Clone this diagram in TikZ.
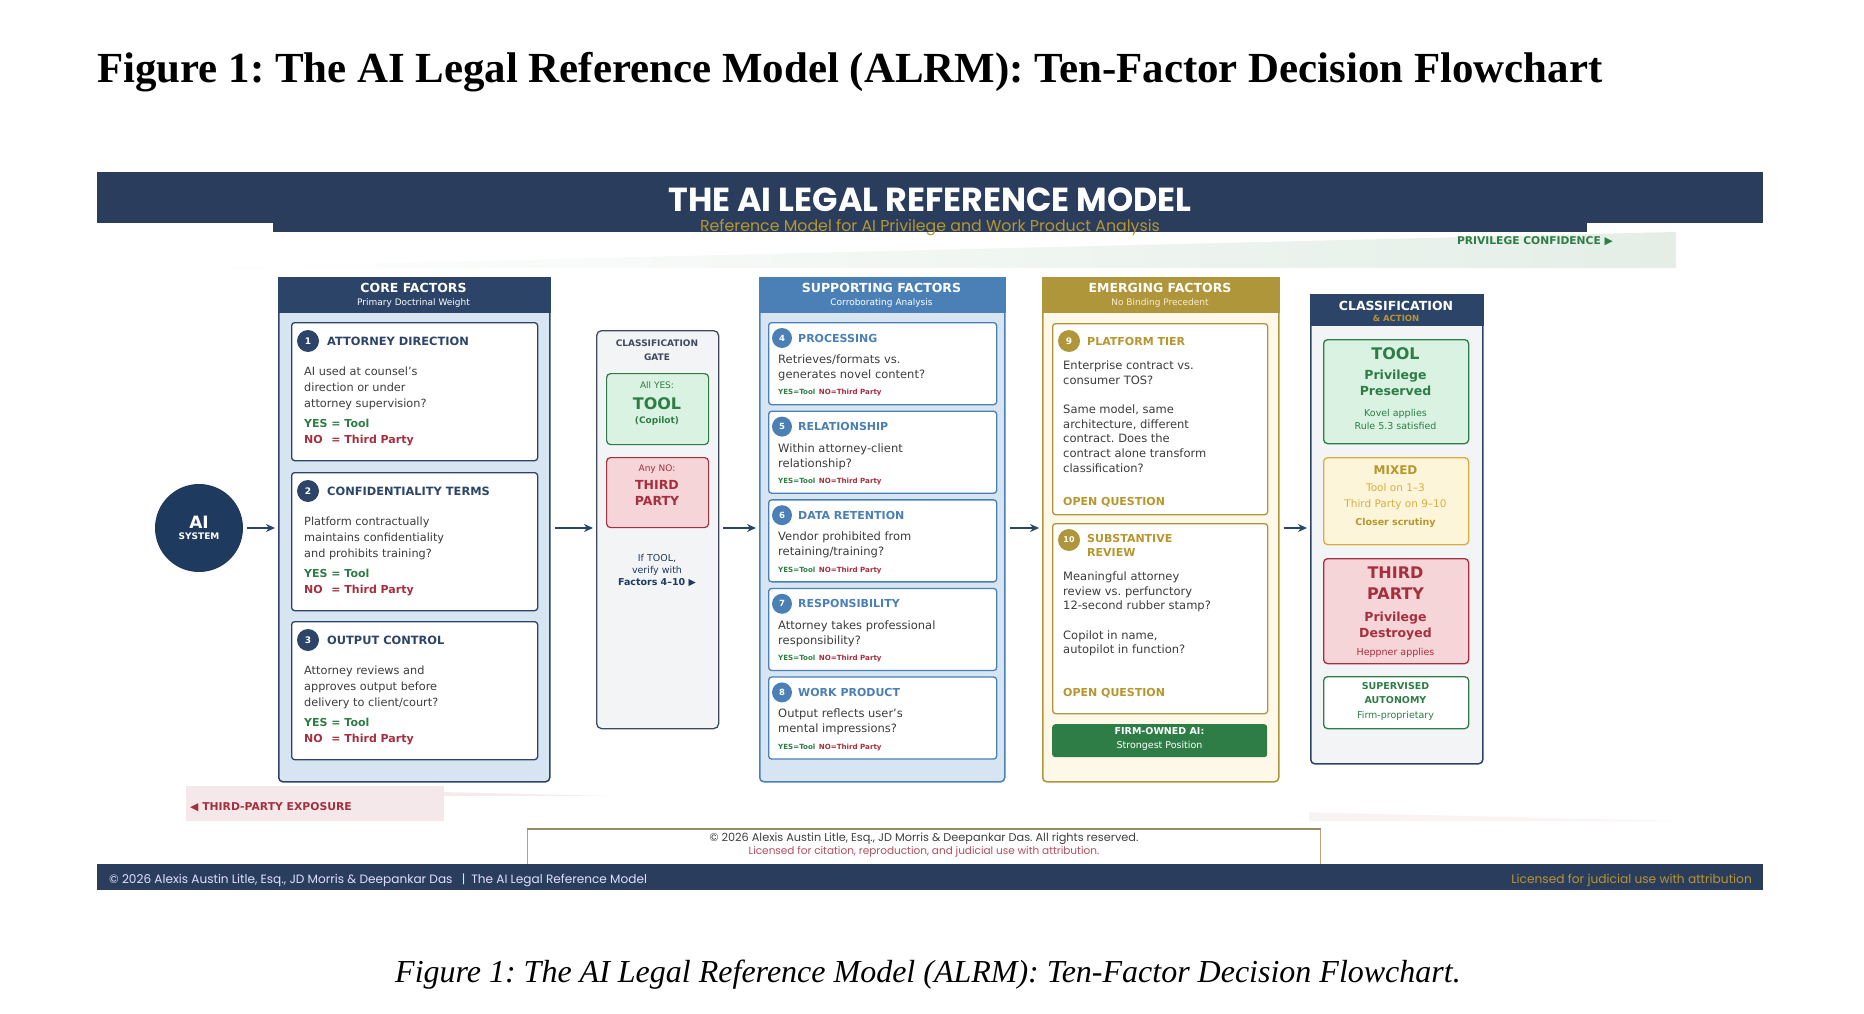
\documentclass[tikz,border=0pt]{standalone}
\usepackage{fontspec}
\setmainfont{DejaVu Sans}
\newfontfamily\timesfont{Liberation Serif}
\newfontfamily\popfont{Poppins}
\usepackage{tikz}
\usetikzlibrary{positioning,calc,arrows.meta,shapes}
\frenchspacing

\definecolor{navy}{HTML}{2B4468}
\definecolor{dotnavy}{HTML}{1E3A5F}
\definecolor{barnavy}{HTML}{2A3D5C}
\definecolor{steel}{HTML}{4A80B6}
\definecolor{gold}{HTML}{B0963A}
\definecolor{goldtxt}{HTML}{B8962E}
\definecolor{cream}{HTML}{FDF8E7}
\definecolor{paleblue}{HTML}{D6E5F1}
\definecolor{palegray}{HTML}{F3F4F6}
\definecolor{slate}{HTML}{3E4A5C}
\definecolor{okgreen}{HTML}{2E7D46}
\definecolor{okfill}{HTML}{D9F2E2}
\definecolor{badred}{HTML}{A52F3F}
\definecolor{badfill}{HTML}{F5D5D7}
\definecolor{mixfill}{HTML}{FDF5DA}
\definecolor{mixgold}{HTML}{D8AE40}
\definecolor{bodygray}{HTML}{3C3C3C}
\definecolor{tan}{HTML}{B5A27A}

\newcommand{\fsz}[2]{\fontsize{#1}{#2}\selectfont}

\begin{document}
\begin{tikzpicture}[x=1pt,y=-1pt,
    box/.style={rectangle, anchor=north west, inner sep=0pt},
    card/.style={box, draw, fill=white, rounded corners=3pt, line width=1.3pt},
    numdot/.style={circle, inner sep=0pt, text=white, font=\bfseries\fsz{9}{9}},
    lbl/.style={inner sep=0pt},
    txt/.style={anchor=north west, inner sep=0pt, align=left, text=bodygray},
    flow/.style={-{Stealth[length=9pt,width=8pt]}, line width=1.6pt, draw=navy, shorten <=4pt, shorten >=3pt}]

    \fill[white] (0,0) rectangle (1864,1014);
    \useasboundingbox (0,0) rectangle (1864,1014);

    % Figure title and caption
    \node[lbl, anchor=base west, font=\timesfont\bfseries\fsz{42.9}{42.9}] (title) at (97,83)
        {Figure 1: The AI Legal Reference Model (ALRM): Ten-Factor Decision Flowchart};
    \node[lbl, anchor=base west, font=\timesfont\itshape\fsz{32}{32}] (caption) at (395,982)
        {Figure 1: The AI Legal Reference Model (ALRM): Ten-Factor Decision Flowchart.};

    % Confidence wedge
    \shade[left color=white, right color=okgreen!13] (184,268) -- (1676,232) -- (1676,268) -- cycle;
    \node[lbl, anchor=east, text=okgreen, font=\bfseries\fsz{10.7}{10.7}] (conf) at (1613,241) {PRIVILEGE CONFIDENCE ▶};

    % Header bar
    \fill[barnavy] (97,172) rectangle (1763,223);
    \fill[barnavy] (273,222) rectangle (1587,232);
    \node[lbl, text=white, font=\popfont\bfseries\fsz{33.3}{33.3}] (hdr) at (930,200) {THE AI LEGAL REFERENCE MODEL};
    \node[lbl, text=goldtxt, font=\popfont\fsz{15.8}{15.8}] (sub) at (930,227.5) {Reference Model for AI Privilege and Work Product Analysis};

    % AI system
    \node[circle, fill=dotnavy, minimum size=88pt, inner sep=0pt, text=white, align=center, font=\bfseries] (ai) at (199,528)
        {{\fsz{17}{17}AI}\\[-1pt]{\fsz{9}{9}SYSTEM}};

    % Core factors
    \node[box, fill=paleblue, draw=navy, line width=1.5pt, rounded corners=4pt, minimum width=271pt, minimum height=504pt] (core) at (278,277) {};
    \fill[navy] (core.north west) rectangle ([yshift=-36pt]core.north east);
    \node[lbl, text=white, font=\bfseries\fsz{12.5}{12.5}] (corettl) at (413.5,288) {CORE FACTORS};
    \node[lbl, text=white, font=\fsz{9}{9}] (coresub) at (413.5,303) {Primary Doctrinal Weight};
    \foreach \n/\yy/\ttl/\body in {
        1/322/ATTORNEY DIRECTION/{AI used at counsel's\\direction or under\\attorney supervision?},
        2/472/CONFIDENTIALITY TERMS/{Platform contractually\\maintains confidentiality\\and prohibits training?},
        3/621/OUTPUT CONTROL/{Attorney reviews and\\approves output before\\delivery to client/court?}}{
        \node[card, draw=navy, minimum width=246pt, minimum height=138pt] (core\n) at (291,\yy) {};
        \node[numdot, fill=navy, minimum size=22pt] (core\n num) at (308,\yy+19) {\n};
        \node[lbl, anchor=west, text=navy, font=\bfseries\fsz{11.4}{11.4}] (core\n ttl) at (327,\yy+19) {\ttl};
        \node[txt, font=\fsz{11.3}{15.7}] (core\n txt) at (304,\yy+45) {\body};
        \node[txt, font=\bfseries\fsz{11}{16}] (core\n yn) at (304,\yy+96.5)
            {\textcolor{okgreen}{YES = Tool}\\\textcolor{badred}{\rlap{NO}\hphantom{YES} = Third Party}};
    }

    % Classification gate
    \node[box, fill=palegray, draw=slate, line width=1.3pt, rounded corners=5pt, minimum width=122pt, minimum height=398pt] (gate) at (596,330) {};
    \node[lbl, align=center, text=slate, font=\bfseries\fsz{9}{14}] (gatettl) at (657,350) {CLASSIFICATION\\GATE};
    \node[box, fill=okfill, draw=okgreen, line width=1.2pt, rounded corners=4pt, minimum width=102pt, minimum height=71pt] (gateyes) at (606,373) {};
    \node[lbl, text=okgreen, font=\fsz{9}{9}] (gateyes a) at (657,385) {All YES:};
    \node[lbl, text=okgreen, font=\bfseries\fsz{16}{16}] (gateyes b) at (657,404) {TOOL};
    \node[lbl, text=okgreen, font=\bfseries\fsz{9}{9}] (gateyes c) at (657,421) {(Copilot)};
    \node[box, fill=badfill, draw=badred, line width=1.2pt, rounded corners=4pt, minimum width=102pt, minimum height=70pt] (gateno) at (606,457) {};
    \node[lbl, text=badred, font=\fsz{9}{9}] (gateno a) at (657,469) {Any NO:};
    \node[lbl, align=center, text=badred, font=\bfseries\fsz{12.5}{16}] (gateno b) at (657,493) {THIRD\\PARTY};
    \node[lbl, align=center, text=dotnavy, font=\fsz{9.5}{12}] (gatenote) at (657,570)
        {If TOOL,\\verify with\\\textbf{Factors 4–10 ▶}};

    % Supporting factors
    \node[box, fill=paleblue, draw=steel, line width=1.5pt, rounded corners=4pt, minimum width=245pt, minimum height=504pt] (supp) at (759,277) {};
    \fill[steel] (supp.north west) rectangle ([yshift=-36pt]supp.north east);
    \node[lbl, text=white, font=\bfseries\fsz{12.5}{12.5}] (suppttl) at (881.5,288) {SUPPORTING FACTORS};
    \node[lbl, text=white, font=\fsz{9}{9}] (suppsub) at (881.5,303) {Corroborating Analysis};
    \foreach \n/\ttl/\body in {
        4/PROCESSING/{Retrieves/formats vs.\\generates novel content?},
        5/RELATIONSHIP/{Within attorney-client\\relationship?},
        6/DATA RETENTION/{Vendor prohibited from\\retaining/training?},
        7/RESPONSIBILITY/{Attorney takes professional\\responsibility?},
        8/WORK PRODUCT/{Output reflects user's\\mental impressions?}}{
        \pgfmathsetmacro\yy{322+(\n-4)*88.6}
        \node[card, draw=steel, minimum width=228pt, minimum height=82pt] (supp\n) at (768,\yy) {};
        \node[numdot, fill=steel, minimum size=20pt, font=\bfseries\fsz{8.5}{8.5}] (supp\n num) at (782,\yy+16) {\n};
        \node[lbl, anchor=west, text=steel, font=\bfseries\fsz{11}{11}] (supp\n ttl) at (798,\yy+16) {\ttl};
        \node[txt, font=\fsz{11.5}{15}] (supp\n txt) at (778,\yy+32.5) {\body};
        \node[lbl, anchor=west, font=\bfseries\fsz{7.1}{7.1}] (supp\n yn) at (778,\yy+71)
            {\textcolor{okgreen}{YES=Tool}\enspace\textcolor{badred}{NO=Third Party}};
    }

    % Emerging factors
    \node[box, fill=cream, draw=gold, line width=1.5pt, rounded corners=4pt, minimum width=236pt, minimum height=504pt] (emer) at (1042,277) {};
    \fill[gold] (emer.north west) rectangle ([yshift=-36pt]emer.north east);
    \node[lbl, text=white, font=\bfseries\fsz{12.5}{12.5}] (emerttl) at (1160,288) {EMERGING FACTORS};
    \node[lbl, text=cream!90!gold, font=\fsz{9}{9}] (emersub) at (1160,303) {No Binding Precedent};
    \node[card, draw=gold, minimum width=215pt, minimum height=191pt] (emer9) at (1052,323) {};
    \node[numdot, fill=gold, minimum size=22pt] (emer9 num) at (1069,341) {9};
    \node[lbl, anchor=west, text=goldtxt, font=\bfseries\fsz{11}{11}] (emer9 ttl) at (1087,341) {PLATFORM TIER};
    \node[txt, font=\fsz{11.5}{14.7}] (emer9 txt) at (1063,360.4)
        {Enterprise contract vs.\\consumer TOS?\\[14.7pt]Same model, same\\architecture, different\\contract. Does the\\contract alone transform\\classification?};
    \node[lbl, anchor=west, text=goldtxt, font=\bfseries\fsz{11}{11}] (emer9 open) at (1063,502) {OPEN QUESTION};
    \node[card, draw=gold, minimum width=215pt, minimum height=190pt] (emer10) at (1052,523) {};
    \node[numdot, fill=gold, minimum size=22pt, font=\bfseries\fsz{8}{8}] (emer10 num) at (1069,540) {10};
    \node[txt, text=goldtxt, font=\bfseries\fsz{11}{14}] (emer10 ttl) at (1087,534.6) {SUBSTANTIVE\\REVIEW};
    \node[txt, font=\fsz{11.5}{14.7}] (emer10 txt) at (1063,571.4)
        {Meaningful attorney\\review vs. perfunctory\\12-second rubber stamp?\\[14.7pt]Copilot in name,\\autopilot in function?};
    \node[lbl, anchor=west, text=goldtxt, font=\bfseries\fsz{11}{11}] (emer10 open) at (1063,693) {OPEN QUESTION};
    \node[box, fill=okgreen, rounded corners=3pt, minimum width=215pt, minimum height=33pt] (firm) at (1052,724) {};
    \node[lbl, align=center, text=white, font=\fsz{9.5}{14}] (firmtxt) at (1159.5,739) {\textbf{FIRM-OWNED AI:}\\Strongest Position};

    % Classification and action
    \node[box, fill=palegray, draw=navy, line width=1.5pt, rounded corners=4pt, minimum width=172pt, minimum height=469pt] (cls) at (1310,294) {};
    \fill[navy] (cls.north west) rectangle ([yshift=-32pt]cls.north east);
    \node[lbl, text=white, font=\bfseries\fsz{12.5}{12.5}] (clsttl) at (1396,306) {CLASSIFICATION};
    \node[lbl, text=goldtxt, font=\bfseries\fsz{8.5}{8.5}] (clssub) at (1396,318.5) {\& ACTION};
    % tool
    \node[box, fill=okfill, draw=okgreen, line width=1.3pt, rounded corners=4pt, minimum width=145pt, minimum height=104pt] (tool) at (1323,339) {};
    \node[lbl, text=okgreen, font=\bfseries\fsz{16}{16}] (tool a) at (1395.5,354) {TOOL};
    \node[lbl, align=center, text=okgreen, font=\bfseries\fsz{12.5}{16}] (tool b) at (1395.5,383) {Privilege\\Preserved};
    \node[lbl, align=center, text=okgreen, font=\fsz{9.5}{13}] (tool c) at (1395.5,419.5) {Kovel applies\\Rule 5.3 satisfied};
    % mixed
    \node[box, fill=mixfill, draw=mixgold, line width=1.3pt, rounded corners=4pt, minimum width=145pt, minimum height=87pt] (mixed) at (1323,457) {};
    \node[lbl, text=goldtxt, font=\bfseries\fsz{12}{12}] (mixed a) at (1395.5,470) {MIXED};
    \node[lbl, align=center, text=mixgold, font=\fsz{10.5}{16}] (mixed b) at (1395.5,497) {Tool on 1–3\\Third Party on 9–10};
    \node[lbl, text=goldtxt, font=\bfseries\fsz{9.5}{9.5}] (mixed c) at (1395.5,523) {Closer scrutiny};
    % third party
    \node[box, fill=badfill, draw=badred, line width=1.3pt, rounded corners=4pt, minimum width=145pt, minimum height=105pt] (third) at (1323,558) {};
    \node[lbl, align=center, text=badred, font=\bfseries\fsz{16}{21}] (third a) at (1395.5,583.5) {THIRD\\PARTY};
    \node[lbl, align=center, text=badred, font=\bfseries\fsz{12.5}{16}] (third b) at (1395.5,626) {Privilege\\Destroyed};
    \node[lbl, text=badred, font=\fsz{9.5}{9.5}] (third c) at (1395.5,653) {Heppner applies};
    % supervised autonomy
    \node[box, fill=white, draw=okgreen, line width=1.3pt, rounded corners=4pt, minimum width=145pt, minimum height=52pt] (auto) at (1323,676) {};
    \node[lbl, align=center, text=okgreen, font=\bfseries\fsz{9.5}{14}] (auto a) at (1395.5,693) {SUPERVISED\\AUTONOMY};
    \node[lbl, text=okgreen, font=\fsz{9.5}{9.5}] (auto b) at (1395.5,716) {Firm-proprietary};

    % Flow arrows
    \draw[flow] (ai.east) -- (ai.east -| core.west);
    \draw[flow] (core.east |- ai.east) -- (gate.west |- ai.east);
    \draw[flow] (gate.east |- ai.east) -- (supp.west |- ai.east);
    \draw[flow] (supp.east |- ai.east) -- (emer.west |- ai.east);
    \draw[flow] (emer.east |- ai.east) -- (cls.west |- ai.east);

    % Exposure wedge
    \shade[left color=badred!11, right color=badred!5] (186,786) -- (1677,821) -- (186,821) -- cycle;
    \fill[white] (444,796) rectangle (1309,829);
    \fill[badred!11] (186,786) rectangle (444,821);
    \node[lbl, anchor=west, text=badred, font=\bfseries\fsz{10.8}{10.8}] (exp) at (190,807) {◀ THIRD-PARTY EXPOSURE};

    % Copyright box
    \node[box, fill=white, draw=tan, line width=1pt, minimum width=793pt, minimum height=35pt] (copy) at (527,829) {};
    \draw[tan!85!black, line width=2pt] (copy.north west) -- (copy.north east);
    \node[lbl, text=black!75, font=\popfont\fsz{11.3}{11.3}] (copy a) at (924,839)
        {© 2026 Alexis Austin Litle, Esq., JD Morris \& Deepankar Das. All rights reserved.};
    \node[lbl, text=badred!85, font=\popfont\fsz{10.5}{10.5}] (copy b) at (924,852)
        {Licensed for citation, reproduction, and judicial use with attribution.};

    % Footer bar
    \fill[barnavy] (97,864) rectangle (1763,890);
    \node[lbl, anchor=west, text=white!88!blue, font=\popfont\fsz{12.1}{12.1}] (foot a) at (109,880)
        {© 2026 Alexis Austin Litle, Esq., JD Morris \& Deepankar Das \enspace|\enspace The AI Legal Reference Model};
    \node[lbl, anchor=east, text=goldtxt, font=\popfont\fsz{12.2}{12.2}] (foot b) at (1752,880)
        {Licensed for judicial use with attribution};
\end{tikzpicture}
\end{document}
